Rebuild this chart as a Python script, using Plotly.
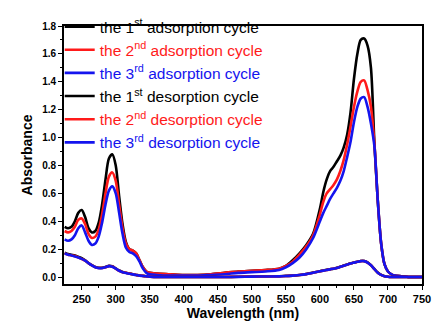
import plotly.graph_objects as go

# Wavelength grid (nm)
wavelength = [225, 230, 235, 240, 245, 250, 255, 260, 265, 270, 275, 280, 285, 290, 295,
              300, 305, 310, 315, 320, 325, 330, 335, 340, 345, 350, 360, 380, 400, 420,
              440, 460, 480, 500, 520, 540, 550, 560, 570, 580, 590, 600, 605, 610, 615,
              620, 625, 630, 635, 640, 645, 650, 655, 660, 665, 670, 675, 680, 685, 690,
              695, 700, 705, 710, 720, 730, 740, 750]

ads1 = [0.36, 0.35, 0.36, 0.40, 0.46, 0.48, 0.43, 0.35, 0.32, 0.33, 0.39, 0.52, 0.70, 0.85, 0.88,
        0.80, 0.58, 0.38, 0.25, 0.20, 0.19, 0.17, 0.12, 0.07, 0.04, 0.03, 0.025, 0.02, 0.015, 0.015,
        0.02, 0.03, 0.04, 0.045, 0.05, 0.06, 0.08, 0.12, 0.17, 0.23, 0.31, 0.49, 0.61, 0.70, 0.76,
        0.79, 0.83, 0.87, 0.93, 1.02, 1.18, 1.42, 1.60, 1.70, 1.71, 1.66, 1.50, 0.97, 0.55, 0.24,
        0.09, 0.04, 0.02, 0.01, 0.005, 0.0, 0.0, 0.0]

ads2 = [0.33, 0.32, 0.33, 0.36, 0.41, 0.42, 0.38, 0.31, 0.28, 0.29, 0.34, 0.45, 0.60, 0.72, 0.75,
        0.69, 0.52, 0.35, 0.24, 0.20, 0.19, 0.17, 0.12, 0.07, 0.04, 0.03, 0.025, 0.02, 0.015, 0.015,
        0.02, 0.03, 0.04, 0.045, 0.05, 0.06, 0.08, 0.11, 0.16, 0.22, 0.30, 0.45, 0.54, 0.60, 0.63,
        0.66, 0.70, 0.76, 0.84, 0.95, 1.08, 1.22, 1.33, 1.40, 1.41, 1.34, 1.22, 0.96, 0.55, 0.24,
        0.09, 0.04, 0.02, 0.01, 0.005, 0.0, 0.0, 0.0]

ads3 = [0.27, 0.26, 0.27, 0.30, 0.35, 0.37, 0.32, 0.26, 0.23, 0.24, 0.29, 0.39, 0.52, 0.62, 0.65,
        0.60, 0.46, 0.31, 0.21, 0.18, 0.17, 0.15, 0.11, 0.06, 0.03, 0.02, 0.015, 0.01, 0.01, 0.01,
        0.015, 0.02, 0.03, 0.035, 0.04, 0.05, 0.07, 0.10, 0.14, 0.20, 0.28, 0.40, 0.46, 0.51, 0.56,
        0.60, 0.64, 0.69, 0.76, 0.86, 0.97, 1.11, 1.22, 1.28, 1.29, 1.22, 1.10, 0.94, 0.55, 0.24,
        0.09, 0.04, 0.02, 0.01, 0.005, 0.0, 0.0, 0.0]

des1 = [0.175, 0.165, 0.16, 0.155, 0.145, 0.135, 0.12, 0.10, 0.085, 0.072, 0.066, 0.066, 0.072, 0.08, 0.077,
        0.062, 0.047, 0.036, 0.03, 0.025, 0.02, 0.015, 0.01, 0.008, 0.005, 0.003, 0.0, 0.0, 0.0, 0.0,
        0.0, 0.0, 0.002, 0.004, 0.005, 0.006, 0.008, 0.01, 0.015, 0.022, 0.032, 0.042, 0.047, 0.052, 0.056,
        0.06, 0.066, 0.074, 0.082, 0.09, 0.098, 0.104, 0.11, 0.115, 0.115, 0.105, 0.085, 0.058, 0.032, 0.015,
        0.006, 0.002, 0.0, 0.0, 0.0, 0.0, 0.0, 0.0]

des2 = [0.17, 0.16, 0.155, 0.15, 0.14, 0.13, 0.118, 0.10, 0.084, 0.07, 0.065, 0.065, 0.07, 0.079, 0.075,
        0.06, 0.045, 0.035, 0.03, 0.025, 0.02, 0.015, 0.01, 0.008, 0.005, 0.003, 0.0, 0.0, 0.0, 0.0,
        0.0, 0.0, 0.002, 0.003, 0.004, 0.005, 0.007, 0.01, 0.014, 0.021, 0.031, 0.041, 0.046, 0.051, 0.055,
        0.06, 0.065, 0.073, 0.081, 0.089, 0.097, 0.103, 0.109, 0.114, 0.114, 0.104, 0.084, 0.057, 0.031, 0.015,
        0.006, 0.002, 0.0, 0.0, 0.0, 0.0, 0.0, 0.0]

des3 = [0.168, 0.16, 0.155, 0.148, 0.14, 0.13, 0.117, 0.10, 0.083, 0.07, 0.064, 0.064, 0.07, 0.078, 0.074,
        0.06, 0.045, 0.035, 0.029, 0.024, 0.019, 0.014, 0.01, 0.007, 0.005, 0.003, 0.0, 0.0, 0.0, 0.0,
        0.0, 0.0, 0.001, 0.003, 0.004, 0.005, 0.007, 0.01, 0.014, 0.021, 0.031, 0.041, 0.046, 0.051, 0.055,
        0.06, 0.065, 0.073, 0.081, 0.089, 0.097, 0.103, 0.109, 0.114, 0.114, 0.104, 0.084, 0.057, 0.031, 0.015,
        0.006, 0.002, 0.0, 0.0, 0.0, 0.0, 0.0, 0.0]

BLACK = "#000000"
RED = "#ff1a1a"
BLUE = "#1414ee"

series = [
    ("1<sup>st</sup> adsorption", ads1, BLACK),
    ("2<sup>nd</sup> adsorption", ads2, RED),
    ("3<sup>rd</sup> adsorption", ads3, BLUE),
    ("1<sup>st</sup> desorption", des1, BLACK),
    ("2<sup>nd</sup> desorption", des2, RED),
    ("3<sup>rd</sup> desorption", des3, BLUE),
]

fig = go.Figure()
for label, ys, col in series:
    fig.add_trace(go.Scatter(
        x=wavelength, y=ys, mode="lines",
        line=dict(color=col, width=2.6, shape="spline", smoothing=0.8),
        name=f'<span style="color:{col}">the {label} cycle</span>',
    ))

FONT = "Liberation Sans, Arial, sans-serif"
x_range = [224, 750]
y_range = [-0.05, 1.8]
x_major = [250, 300, 350, 400, 450, 500, 550, 600, 650, 700, 750]
x_minor = [275, 325, 375, 425, 475, 525, 575, 625, 675, 725]
y_major = [0.0, 0.2, 0.4, 0.6, 0.8, 1.0, 1.2, 1.4, 1.6, 1.8]
y_labels = ["0.0", "0.2", "0.4", "0.6", "0.8", "1.0", "1.2", "1.4", "1.6", "1.8"]
y_minor = [0.1, 0.3, 0.5, 0.7, 0.9, 1.1, 1.3, 1.5, 1.7]

fig.update_layout(
    width=441, height=334,
    margin=dict(l=64, r=10, t=13, b=50),
    paper_bgcolor="white", plot_bgcolor="white",
    font=dict(family=FONT, color="black"),
    showlegend=True,
    legend=dict(
        x=-0.012, y=1.062, xanchor="left", yanchor="top",
        bgcolor="rgba(0,0,0,0)", borderwidth=0,
        font=dict(family=FONT, size=15.5),
        tracegroupgap=0, itemwidth=30,
    ),
    xaxis=dict(
        range=x_range, tickmode="array", tickvals=x_major,
        ticks="outside", ticklen=4, tickwidth=1.2, tickcolor="black",
        minor=dict(tickvals=x_minor, ticks="outside", ticklen=2.5, tickcolor="black"),
        showline=True, linecolor="black", linewidth=1.6, mirror=True,
        showgrid=False, zeroline=False,
        tickfont=dict(family=FONT, size=11, color="black", weight="bold"),
        title=dict(text="<b>Wavelength (nm)</b>", font=dict(family=FONT, size=14), standoff=4),
    ),
    yaxis=dict(
        range=y_range, tickmode="array", tickvals=y_major, ticktext=y_labels,
        ticks="outside", ticklen=4, tickwidth=1.2, tickcolor="black",
        minor=dict(tickvals=y_minor, ticks="outside", ticklen=2.5, tickcolor="black"),
        showline=True, linecolor="black", linewidth=1.6, mirror=True,
        showgrid=False, zeroline=False,
        tickfont=dict(family=FONT, size=10, color="black", weight="bold"),
        title=dict(text="<b>Absorbance</b>", font=dict(family=FONT, size=14), standoff=6),
    ),
    # inward ticks on the top and right frame edges
    xaxis2=dict(
        range=x_range, overlaying="x", side="top",
        tickvals=x_major, ticks="inside", ticklen=4, tickcolor="black", showticklabels=False,
        minor=dict(tickvals=x_minor, ticks="inside", ticklen=2.5, tickcolor="black"),
        showgrid=False, zeroline=False, showline=False,
    ),
    yaxis2=dict(
        range=y_range, overlaying="y", side="right",
        tickvals=y_major, ticks="inside", ticklen=4, tickcolor="black", showticklabels=False,
        minor=dict(tickvals=y_minor, ticks="inside", ticklen=2.5, tickcolor="black"),
        showgrid=False, zeroline=False, showline=False,
    ),
)

fig.write_html("out.html")
